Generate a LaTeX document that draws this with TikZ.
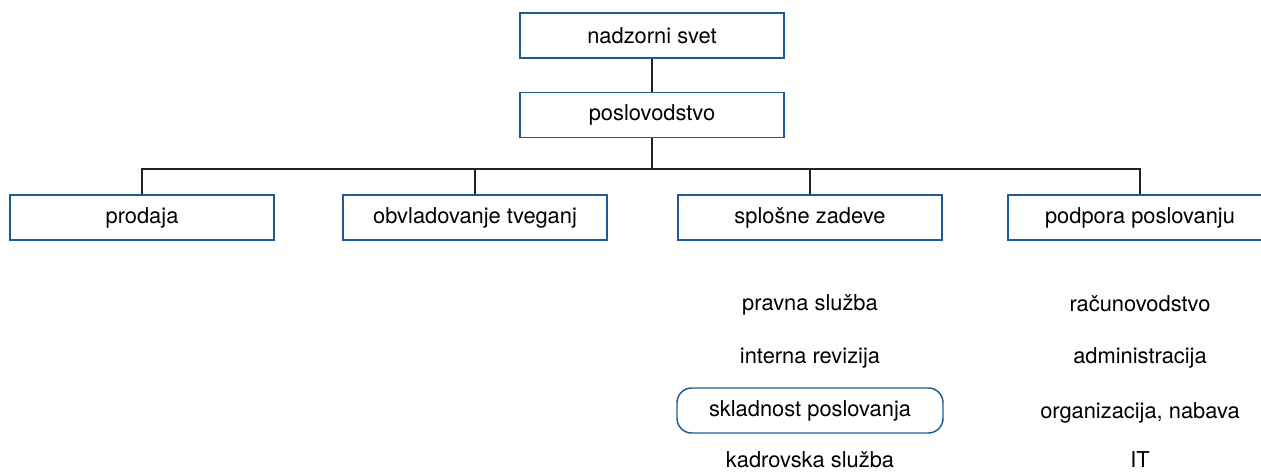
\documentclass[tikz,border=0pt]{standalone}
\usepackage{fontspec}
\setmainfont{TeX Gyre Heros}
\usepackage{xcolor}
\usetikzlibrary{positioning,calc}
\definecolor{boxblue}{HTML}{1F5A93}
\definecolor{linegray}{HTML}{222222}

\begin{document}
\begin{tikzpicture}[x=0.75pt, y=-0.75pt,
    every node/.style={font=\fontsize{16.4}{20}\selectfont},
    unit/.style={draw=boxblue, line width=1.1pt, minimum width=198pt, minimum height=33.75pt, inner sep=0pt},
    marked/.style={draw=boxblue, line width=1.1pt, rounded corners=11pt, minimum width=199.5pt, minimum height=33.75pt, inner sep=0pt},
    link/.style={draw=linegray, line width=0.8pt}]
    \clip (0,0) rectangle (1261,472);

    % top of the chart
    \node[unit] (nadzor) at (652, 35.5) {nadzorni svet};
    \node[unit] (poslov) at (652, 115) {poslovodstvo};
    \coordinate (bus) at (652, 169);

    % departments
    \node[unit] (prodaja) at (142, 217.5) {prodaja};
    \node[unit] (tveganja) at (475, 217.5) {obvladovanje tveganj};
    \node[unit] (splosne) at (810, 217.5) {splošne zadeve};
    \node[unit] (podpora) at (1140, 217.5) {podpora poslovanju};

    % connectors
    \draw[link] (nadzor) -- (poslov);
    \draw[link] (poslov) -- (bus);
    \draw[link] (prodaja.north) |- (bus) -| (podpora.north);
    \draw[link] (tveganja.north) |- (bus);
    \draw[link] (splosne.north) |- (bus);

    % services under splosne zadeve
    \node (pravna) at (810, 305) {pravna služba};
    \node (revizija) at (810, 358) {interna revizija};
    \node[marked] (skladnost) at (810, 410.5) {skladnost poslovanja};
    \node[inner sep=1pt] (kadrovska) at (810, 460) {kadrovska služba};

    % services under podpora poslovanju
    \node (racun) at (1140, 304) {računovodstvo};
    \node (admin) at (1140, 358) {administracija};
    \node (nabava) at (1140, 413) {organizacija, nabava};
    \node[inner sep=1pt] (it) at (1140, 460) {IT};
\end{tikzpicture}
\end{document}
